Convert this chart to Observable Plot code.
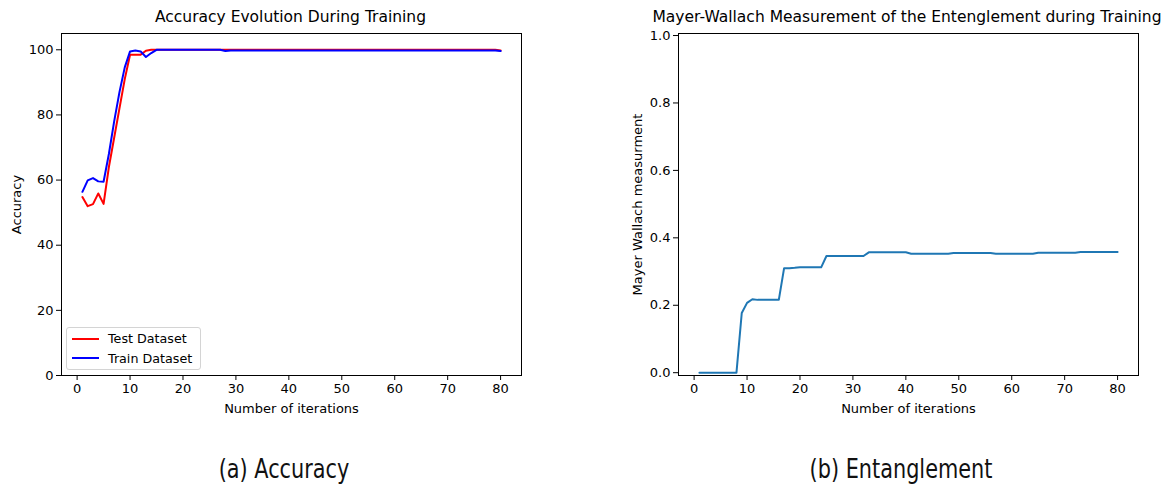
<!DOCTYPE html>
<html>
<head>
<meta charset="utf-8">
<script src="https://cdn.jsdelivr.net/npm/d3@7"></script>
<script src="https://cdn.jsdelivr.net/npm/@observablehq/plot@0.6"></script>
<style>
  html, body { margin: 0; padding: 0; background: #fff; }
  #wrap { position: relative; width: 1169px; height: 484px; overflow: hidden; font-family: "DejaVu Sans", sans-serif; }
  .panel { position: absolute; top: 0; }
  .title { position: absolute; font-size: 15.5px; color: #000; white-space: nowrap; transform: translateX(-50%); }
  .caption { position: absolute; font-family: "Liberation Sans Narrow", "DejaVu Sans Condensed", sans-serif; font-stretch: condensed; font-size: 26px; color: #111; white-space: nowrap; transform: translateX(-50%) scaleX(0.89); transform-origin: 50% 0; }
  .legend { position: absolute; border: 1px solid #d4d4d4; border-radius: 3px; background: rgba(255,255,255,0.8); font-size: 12.7px; padding: 1px 8px 1px 5px; white-space: nowrap; }
  .legend .item { display: flex; align-items: center; height: 19.5px; }
  .legend .sw { width: 27px; height: 2px; margin-right: 9px; flex: none; }
</style>
</head>
<body>
<div id="wrap"></div>
<script>
// ---------- data ----------
const iterations = d3.range(1, 81);
const xTicks = [0, 10, 20, 30, 40, 50, 60, 70, 80];
const accYTicks = [0, 20, 40, 60, 80, 100];
const entYTicks = [0, 0.2, 0.4, 0.6, 0.8, 1.0];
const seriesNames = ["Test Dataset", "Train Dataset"];
const seriesColors = ["#ff0000", "#0000ff"];

const testAccuracy = [
  54.8, 52.0, 52.6, 55.9, 52.7, 64.0, 73.0, 82.0, 91.0, 98.5,
  98.5, 98.5, 99.7, 100, 100, 100, 100, 100, 100, 100,
  100, 100, 100, 100, 100, 100, 100, 100, 100, 100,
  100, 100, 100, 100, 100, 100, 100, 100, 100, 100,
  100, 100, 100, 100, 100, 100, 100, 100, 100, 100,
  100, 100, 100, 100, 100, 100, 100, 100, 100, 100,
  100, 100, 100, 100, 100, 100, 100, 100, 100, 100,
  100, 100, 100, 100, 100, 100, 100, 100, 100, 99.8
];
const trainAccuracy = [
  56.4, 59.9, 60.6, 59.6, 59.5, 68.0, 78.0, 87.0, 94.6, 99.5,
  99.8, 99.5, 97.8, 99.0, 100, 100, 100, 100, 100, 100,
  100, 100, 100, 100, 100, 100, 100, 99.6, 99.8, 99.8,
  99.8, 99.8, 99.8, 99.8, 99.8, 99.8, 99.8, 99.8, 99.8, 99.8,
  99.8, 99.8, 99.8, 99.8, 99.8, 99.8, 99.8, 99.8, 99.8, 99.8,
  99.8, 99.8, 99.8, 99.8, 99.8, 99.8, 99.8, 99.8, 99.8, 99.8,
  99.8, 99.8, 99.8, 99.8, 99.8, 99.8, 99.8, 99.8, 99.8, 99.8,
  99.8, 99.8, 99.8, 99.8, 99.8, 99.8, 99.8, 99.8, 99.8, 99.6
];
const mayerWallach = [
  0.0, 0.0, 0.0, 0.0, 0.0, 0.0, 0.0, 0.0, 0.177, 0.207,
  0.218, 0.216, 0.216, 0.216, 0.216, 0.216, 0.310, 0.310, 0.311, 0.3125,
  0.3125, 0.3125, 0.3125, 0.3125, 0.346, 0.346, 0.346, 0.346, 0.346, 0.346,
  0.346, 0.346, 0.357, 0.357, 0.357, 0.357, 0.357, 0.357, 0.357, 0.357,
  0.353, 0.353, 0.353, 0.353, 0.353, 0.353, 0.353, 0.353, 0.355, 0.355,
  0.355, 0.355, 0.355, 0.355, 0.355, 0.355, 0.353, 0.353, 0.353, 0.353,
  0.353, 0.353, 0.353, 0.353, 0.356, 0.356, 0.356, 0.356, 0.356, 0.356,
  0.356, 0.356, 0.358, 0.358, 0.358, 0.358, 0.358, 0.358, 0.358, 0.358
];

const titles = ["Accuracy Evolution During Training", "Mayer-Wallach Measurement of the Entenglement during Training"];
const captions = ["(a) Accuracy", "(b) Entanglement"];

// ---------- build ----------
const wrap = document.getElementById("wrap");
const accRows = [];
iterations.forEach((it, i) => {
  accRows.push({iter: it, value: testAccuracy[i], series: seriesNames[0]});
});
iterations.forEach((it, i) => {
  accRows.push({iter: it, value: trainAccuracy[i], series: seriesNames[1]});
});
const entRows = iterations.map((it, i) => ({iter: it, value: mayerWallach[i]}));

const style = {fontFamily: "DejaVu Sans, sans-serif", fontSize: "13px", color: "#000", background: "transparent"};

const left = Plot.plot({
  width: 585, height: 440,
  marginLeft: 61, marginRight: 64, marginTop: 33, marginBottom: 65,
  style,
  x: {domain: [-2.95, 83.95]},
  y: {domain: [0, 105]},
  color: {domain: seriesNames, range: seriesColors},
  marks: [
    Plot.axisX({ticks: xTicks, tickSize: 5, tickPadding: 3, label: "Number of iterations", labelAnchor: "center", labelArrow: "none", labelOffset: 37}),
    Plot.axisY({ticks: accYTicks, tickSize: 5, tickPadding: 3, label: "Accuracy", labelAnchor: "center", labelArrow: "none", labelOffset: 50}),
    Plot.lineY(accRows, {x: "iter", y: "value", z: "series", stroke: "series", strokeWidth: 2}),
    Plot.frame({stroke: "#000", strokeWidth: 1})
  ]
});
left.classList.add("panel");
left.style.left = "0px";
wrap.appendChild(left);

const right = Plot.plot({
  width: 584, height: 440,
  marginLeft: 93, marginRight: 31, marginTop: 33, marginBottom: 65,
  style,
  x: {domain: [-2.95, 83.95]},
  y: {domain: [-0.0083, 1.006]},
  marks: [
    Plot.axisX({ticks: xTicks, tickSize: 5, tickPadding: 3, label: "Number of iterations", labelAnchor: "center", labelArrow: "none", labelOffset: 37}),
    Plot.axisY({ticks: entYTicks, tickFormat: d3.format(".1f"), tickSize: 5, tickPadding: 3, label: "Mayer Wallach measurment", labelAnchor: "center", labelArrow: "none", labelOffset: 46}),
    Plot.lineY(entRows, {x: "iter", y: "value", stroke: "#1f77b4", strokeWidth: 2}),
    Plot.frame({stroke: "#000", strokeWidth: 1})
  ]
});
right.classList.add("panel");
right.style.left = "585px";
wrap.appendChild(right);

// titles
[[titles[0], 290.5], [titles[1], 907]].forEach(([t, cx]) => {
  const d = document.createElement("div");
  d.className = "title";
  d.textContent = t;
  d.style.left = cx + "px";
  d.style.top = "8px";
  wrap.appendChild(d);
});

// captions
[[captions[0], 284], [captions[1], 901]].forEach(([t, cx]) => {
  const d = document.createElement("div");
  d.className = "caption";
  d.textContent = t;
  d.style.left = cx + "px";
  d.style.top = "454px";
  wrap.appendChild(d);
});

// legend
const lg = document.createElement("div");
lg.className = "legend";
lg.style.left = "66px";
lg.style.top = "327px";
seriesNames.forEach((n, i) => {
  const it = document.createElement("div");
  it.className = "item";
  const sw = document.createElement("span");
  sw.className = "sw";
  sw.style.background = seriesColors[i];
  const tx = document.createElement("span");
  tx.textContent = n;
  it.appendChild(sw); it.appendChild(tx);
  lg.appendChild(it);
});
wrap.appendChild(lg);
</script>
</body>
</html>
